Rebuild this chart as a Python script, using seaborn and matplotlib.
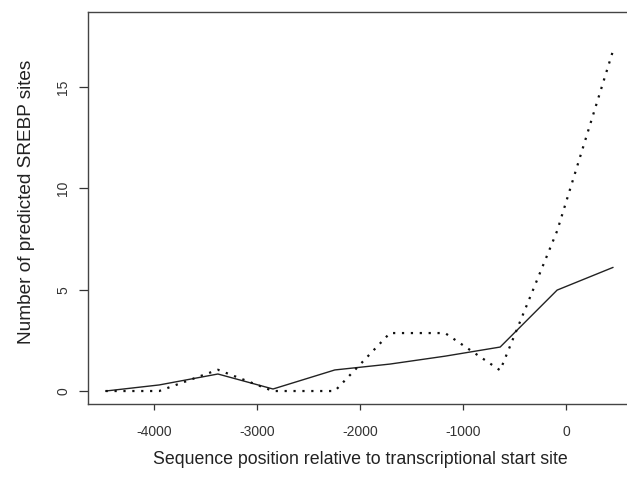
import matplotlib
matplotlib.use("Agg")
import matplotlib.pyplot as plt
import pandas as pd
import seaborn as sns

# positions relative to the transcriptional start site
positions = [-4470, -3950, -3380, -2845, -2245, -1710, -1175, -640, -87, 456]
# solid line
sites_solid = [0.0, 0.3, 0.84, 0.1, 1.04, 1.33, 1.72, 2.17, 4.98, 6.1]
# dotted line
sites_dotted = [0.0, 0.0, 1.05, 0.0, 0.0, 2.86, 2.86, 1.02, 7.9, 16.8]

x_ticks = [-4000, -3000, -2000, -1000, 0]
y_ticks = [0, 5, 10, 15]

sns.set_theme(style="white")
plt.rcParams["font.family"] = ["Liberation Sans", "DejaVu Sans"]
plt.rcParams["axes.unicode_minus"] = False

df = pd.DataFrame({"pos": positions, "solid": sites_solid, "dotted": sites_dotted})

fig = plt.figure(figsize=(6.27, 4.82), dpi=100)
ax = fig.add_axes([88 / 627, 78 / 482, 550 / 627, 392 / 482])

sns.lineplot(data=df, x="pos", y="solid", ax=ax, color="#222222", linewidth=1.0)
sns.lineplot(data=df, x="pos", y="dotted", ax=ax, color="#111111",
             linewidth=1.6, linestyle=(0, (1, 3)))

ax.set_xlim(-4641, 698)
ax.set_ylim(-0.64, 18.7)
ax.set_xticks(x_ticks)
ax.set_yticks(y_ticks)
ax.set_xticklabels([str(t) for t in x_ticks], fontsize=10, color="#333333")
ax.set_yticklabels([str(t) for t in y_ticks], fontsize=10, color="#333333",
                   rotation=90, va="center")
ax.tick_params(axis="both", direction="out", width=0.9, color="#333333",
               bottom=True, left=True)
ax.tick_params(axis="x", length=4.3, pad=11)
ax.tick_params(axis="y", length=6.5, pad=6.1)

for side in ["left", "top", "bottom"]:
    ax.spines[side].set_color("#444444")
    ax.spines[side].set_linewidth(1.0)
ax.spines["right"].set_visible(False)

ax.set_xlabel("Sequence position relative to transcriptional start site",
              fontsize=12.8, color="#222222")
ax.set_ylabel("Number of predicted SREBP sites", fontsize=13.7, color="#222222")
ax.xaxis.set_label_coords((360 - 88) / 550, -(460 - 404) / 392)
ax.yaxis.set_label_coords((27 - 88) / 550, (404 - 202) / 392)
ax.xaxis.label.set_va("center")
ax.yaxis.label.set_va("center")

fig.savefig("out.png", dpi=100)
